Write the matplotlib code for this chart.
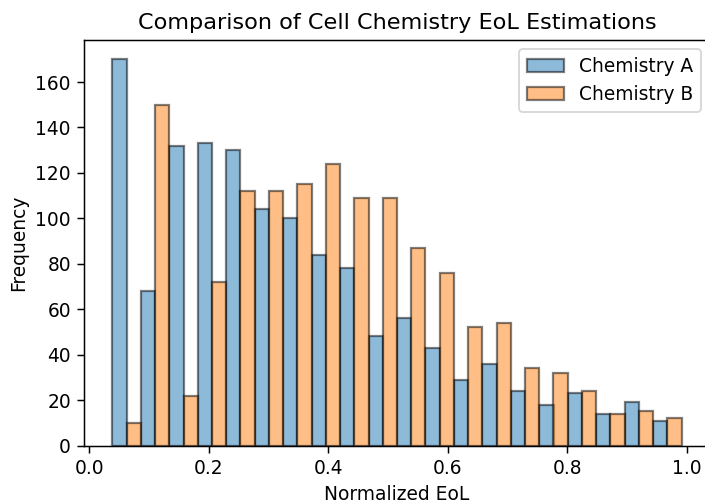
import numpy as np
import matplotlib.pyplot as plt

# bin range of the normalized EoL values
eol_min, eol_max = 0.0385, 0.9915
n_bins = 20

# counts per bin for each chemistry
counts_a = [170, 68, 132, 133, 130, 104, 100, 84, 78, 48,
            56, 43, 29, 36, 24, 18, 23, 14, 19, 11]
counts_b = [10, 150, 22, 72, 112, 112, 115, 124, 109, 109,
            87, 76, 52, 54, 34, 32, 24, 14, 15, 12]
labels = ['Chemistry A', 'Chemistry B']

bins = np.linspace(eol_min, eol_max, n_bins + 1)
centers = (bins[:-1] + bins[1:]) / 2

dpi = 134
fig = plt.figure(figsize=(705 / dpi, 504 / dpi), dpi=dpi)
ax = fig.add_axes([84 / 705, 1 - 445.5 / 504, 626 / 705, 405.5 / 504])

ax.hist([centers, centers], bins=bins, weights=[counts_a, counts_b],
        rwidth=1.0, alpha=0.5, edgecolor='black', linewidth=1.2,
        label=labels)

ax.set_title('Comparison of Cell Chemistry EoL Estimations')
ax.set_xlabel('Normalized EoL')
ax.set_ylabel('Frequency')
ax.legend(loc='upper right')

fig.savefig('out.png', dpi=dpi)
